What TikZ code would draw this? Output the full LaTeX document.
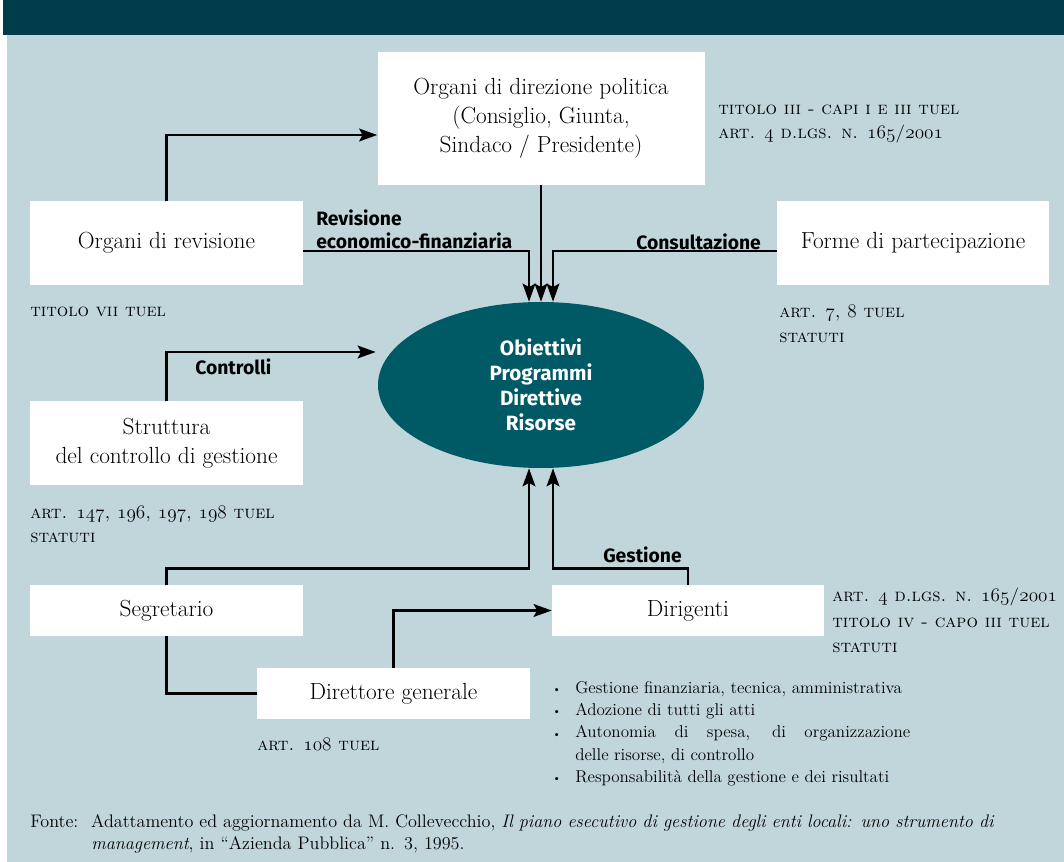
\documentclass[tikz,border=0pt]{standalone}
\usepackage{fontspec}
\newfontfamily\labfont{Fira Sans}
\usetikzlibrary{arrows.meta,calc,shapes.geometric}
\definecolor{bgc}{HTML}{C1D6DB}
\definecolor{headc}{HTML}{003D4A}
\definecolor{ellc}{HTML}{005A66}
\newcommand{\bul}{\makebox[17.25pt][l]{\raisebox{0.5pt}{\fontsize{8}{8}\selectfont\textbullet}}}
\newcommand{\os}[1]{{\usefont{OML}{cmm}{m}{it}#1}}
\begin{document}
\begin{tikzpicture}[x=0.75pt,y=-0.75pt,
  box/.style={fill=white, inner sep=0pt, align=center, font=\fontsize{17.5}{21.75}\selectfont},
  wa/.style={minimum width=273*0.75pt},
  hb/.style={minimum height=84*0.75pt},
  hs/.style={minimum height=51*0.75pt},
  arr/.style={line width=2.1pt, -{Stealth[length=13.5pt,width=9.5pt,inset=2.5pt]}},
  ln/.style={line width=2.1pt},
  lab/.style={font=\labfont\bfseries\fontsize{14.5}{17}\selectfont, inner sep=0pt, anchor=west, align=left},
  refl/.style={font=\fontsize{13.5}{18.5}\selectfont\scshape, inner sep=0pt, anchor=west, align=left},
  refm/.style={font=\fontsize{13.5}{19}\selectfont\scshape, inner sep=0pt, anchor=west, align=left}]
\useasboundingbox (0,0) rectangle (1064,862);
\fill[white] (0,0) rectangle (1064,862);
\fill[headc] (3,0) rectangle (1064,35);
\fill[bgc] (7,35) rectangle (1064,862);

\node[box, minimum width=327*0.75pt, minimum height=133*0.75pt] (dir) at (541,118.5) {Organi di direzione politica\\(Consiglio, Giunta,\\Sindaco / Presidente)};
\node[box, wa, hb] (rev) at (166.5,243) {Organi di revisione};
\node[box, minimum width=272*0.75pt, hb] (forme) at (913,243) {Forme di partecipazione};
\node[ellipse, fill=ellc, minimum width=326*0.75pt, minimum height=166*0.75pt, inner sep=0pt, text=white, align=center, font=\labfont\bfseries\fontsize{15.5}{18.75}\selectfont] (obj) at (541,385) {Obiettivi\\Programmi\\Direttive\\Risorse};
\node[box, wa, hb] (str) at (166.5,443) {Struttura\\del controllo di gestione};
\node[box, wa, hs] (seg) at (166.5,610.5) {Segretario};
\node[box, wa, hs] (dgen) at (393.5,693.5) {Direttore generale};
\node[box, minimum width=272*0.75pt, hs] (dirig) at (688,610.5) {Dirigenti};

\draw[arr] (rev.north) |- ($(dir.west)+(0,16.5)$);
\draw[arr] ($(rev.east)+(0,8)$) -| ($(obj.north)+(-12,0)$);
\draw[arr] (dir.south) -- (obj.north);
\draw[arr] ($(forme.west)+(0,8)$) -| ($(obj.north)+(12,0)$);
\draw[arr] (str.north) |- ($(obj.west)+(-2,-33)$);
\draw[arr] (seg.north) |- ($(obj.south)+(-12,100)$) -- ($(obj.south)+(-12,0)$);
\draw[arr] (dirig.north) |- ($(obj.south)+(12,100)$) -- ($(obj.south)+(12,0)$);
\draw[ln] (seg.south) |- (dgen.west);
\draw[arr] (dgen.north) |- (dirig.west);

\node[lab] (lrev) at (316,229) {Revisione\\economico-finanziaria};
\node[lab] (lcons) at (636,242) {Consultazione};
\node[lab] (lcontr) at (195,367) {Controlli};
\node[lab] (lgest) at (603,555) {Gestione};

\node[refl] (r1) at (718,124) {titolo iii - capi i e iii tuel\\art. \os{4} d.lgs. n. \os{165}/\os{2001}};
\node[refl] (r2) at (30,312) {titolo vii tuel};
\node[refl] (r3) at (779,324) {art. \os{7}, \os{8} tuel\\statuti};
\node[refl] (r4) at (30,524.5) {art. \os{147}, \os{196}, \os{197}, \os{198} tuel\\statuti};
\node[refm] (r5) at (832,620.5) {art. \os{4} d.lgs. n. \os{165}/\os{2001}\\titolo iv - capo iii tuel\\statuti};
\node[refl] (r6) at (257,744) {art. \os{108} tuel};

\node[anchor=north west, inner sep=0pt, text width=358*0.75pt, align=justify, font=\fontsize{12.8}{16.7}\selectfont] (bul) at (552,681) {%
\hangindent=17.25pt\hangafter=1\noindent\bul Gestione finanziaria, tecnica, amministrativa\par
\hangindent=17.25pt\hangafter=1\noindent\bul Adozione di tutti gli atti\par
\hangindent=17.25pt\hangafter=1\noindent\bul Autonomia di spesa, di organizzazione\linebreak delle risorse, di controllo\par
\hangindent=17.25pt\hangafter=1\noindent\bul Responsabilità della gestione e dei risultati\par};

\node[anchor=north west, inner sep=0pt, text width=1020*0.75pt, align=left, font=\fontsize{13.6}{16.5}\selectfont] (fonte) at (30,814) {%
\hangindent=45.75pt\hangafter=1\noindent\makebox[45.75pt][l]{Fonte:}Adattamento ed aggiornamento da M. Collevecchio, \textit{Il piano esecutivo di gestione degli enti locali: uno strumento di}\newline \textit{management}, in “Azienda Pubblica” n. 3, 1995.\par};
\end{tikzpicture}
\end{document}
